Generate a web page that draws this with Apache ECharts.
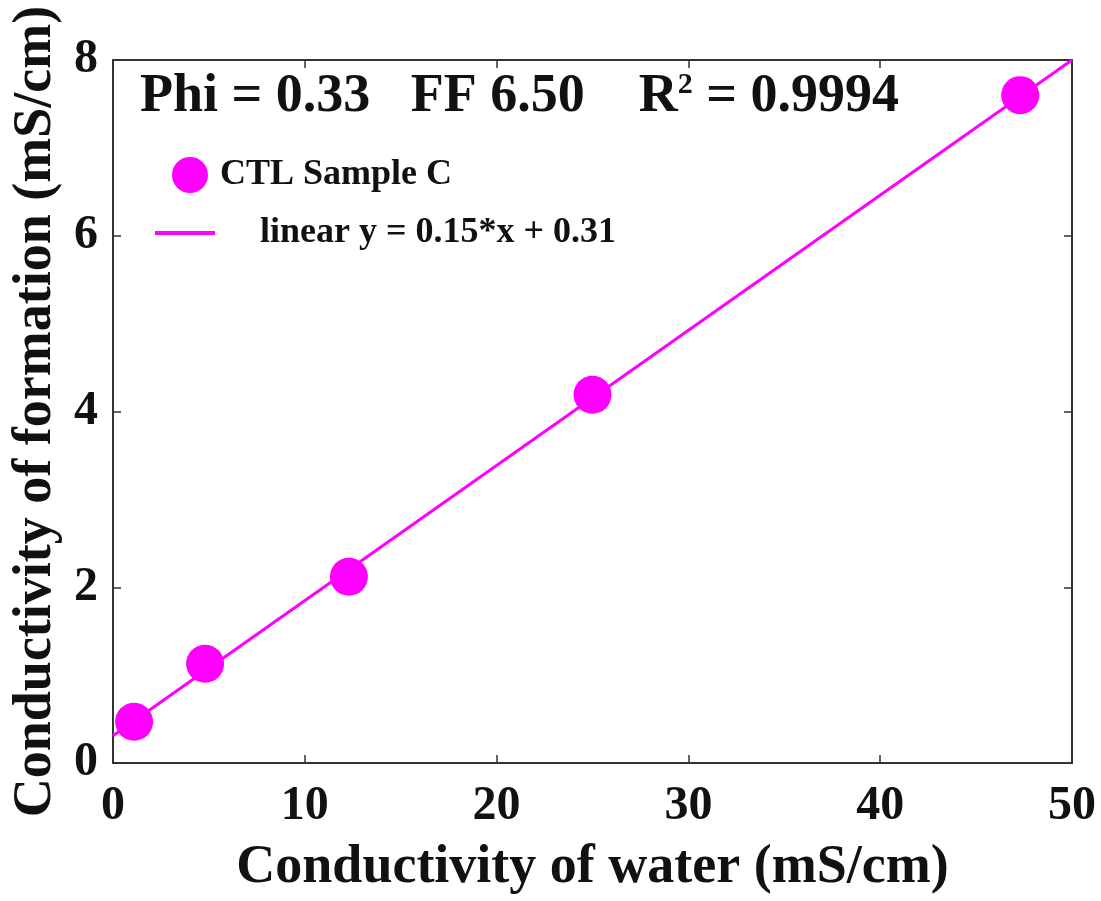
<!DOCTYPE html>
<html><head><meta charset="utf-8">
<script src="https://cdn.jsdelivr.net/npm/echarts@6/dist/echarts.min.js"></script>
<style>html,body{margin:0;padding:0;background:#fff}#c{width:1101px;height:901px}</style>
</head><body><div id="c"></div>
<script>
const waterCond = [1.1, 4.8, 12.3, 25.0, 47.3];
const formationCond = [0.47, 1.13, 2.12, 4.19, 7.6];
const fitX = [0, 50];
const fitY = [0.31, 8.0];
const xTicks = [0, 10, 20, 30, 40, 50];
const yTicks = [0, 2, 4, 6, 8];
const sampleName = 'CTL Sample C';
const fitName = 'linear y = 0.15*x + 0.31';

const F = '"Liberation Serif", "Times New Roman", serif';
const chart = echarts.init(document.getElementById('c'));
const axisCommon = {
  axisLine: {show: true, onZero: false, lineStyle: {color: '#333', width: 2}},
  axisTick: {show: true, inside: true, length: 8, lineStyle: {color: '#333', width: 1.5}},
  splitLine: {show: false},
  axisLabel: {fontFamily: F, fontWeight: 'bold', fontSize: 48, color: '#111'},
  nameTextStyle: {fontFamily: F, fontWeight: 'bold', fontSize: 54, color: '#111'}
};
chart.setOption({
  animation: false,
  grid: {left: 113, right: 29, top: 60, bottom: 138, containLabel: false, outerBoundsMode: 'none'},
  xAxis: [
    Object.assign({}, axisCommon, {type: 'value', min: 0, max: 50, interval: 10,
      name: 'Conductivity of water (mS/cm)', nameLocation: 'middle', nameGap: 78,
      axisLabel: Object.assign({}, axisCommon.axisLabel, {margin: 20, formatter: v => xTicks.includes(v) ? String(v) : ''})}),
    Object.assign({}, axisCommon, {type: 'value', min: 0, max: 50, interval: 10, position: 'top',
      axisLabel: {show: false}})
  ],
  yAxis: [
    Object.assign({}, axisCommon, {type: 'value', min: 0, max: 8, interval: 2,
      name: 'Conductivity of formation (mS/cm)', nameLocation: 'middle', nameGap: 50,
      axisLabel: Object.assign({}, axisCommon.axisLabel, {margin: 15, formatter: v => yTicks.includes(v) ? String(v) : ''})}),
    Object.assign({}, axisCommon, {type: 'value', min: 0, max: 8, interval: 2, position: 'right',
      axisLabel: {show: false}})
  ],
  legend: [
    {data: [{name: sampleName, icon: 'circle'}], left: 167, top: 152, itemWidth: 36, itemHeight: 38, itemGap: 10,
      textStyle: {fontFamily: F, fontWeight: 'bold', fontSize: 36, color: '#111', padding: [0, 0, 0, 7]}},
    {data: [{name: fitName, icon: 'rect'}], left: 150, top: 210, itemWidth: 60, itemHeight: 4,
      textStyle: {fontFamily: F, fontWeight: 'bold', fontSize: 36, color: '#111', padding: [0, 0, 0, 40]}}
  ],
  graphic: [{
    type: 'text', left: 140, top: 70,
    style: {
      text: '{t|Phi = 0.33   FF 6.50    R}{s|2}{t| = 0.9994}',
      rich: {
        t: {fontFamily: F, fontWeight: 'bold', fontSize: 54, fill: '#111'},
        s: {fontFamily: F, fontWeight: 'bold', fontSize: 30, fill: '#111', verticalAlign: 'top', padding: [0, 0, 18, 0]}
      }
    }
  }],
  series: [
    {name: fitName, type: 'line', showSymbol: false, data: fitX.map((x, i) => [x, fitY[i]]),
      lineStyle: {color: '#ff00ff', width: 3}, itemStyle: {color: '#ff00ff'}, z: 2},
    {name: sampleName, type: 'scatter', symbolSize: 38, data: waterCond.map((x, i) => [x, formationCond[i]]),
      itemStyle: {color: '#ff00ff', opacity: 1}, z: 3}
  ]
});
</script></body></html>
